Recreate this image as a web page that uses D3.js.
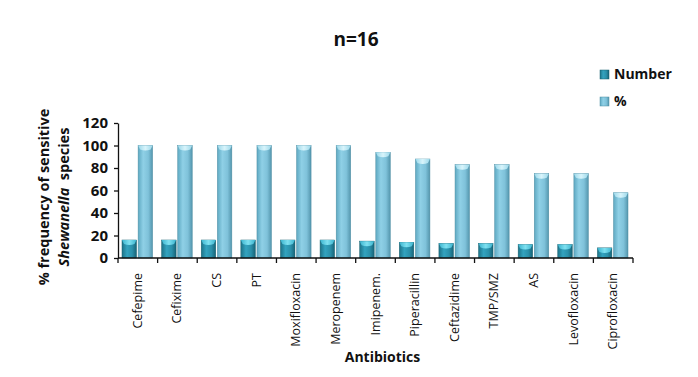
<!DOCTYPE html>
<html>
<head>
<meta charset="utf-8">
<script src="https://cdn.jsdelivr.net/npm/d3@7"></script>
<style>
  body { margin: 0; background: #fff; }
  text { font-family: "Open Sans", "DejaVu Sans", sans-serif; fill: #111; }
</style>
</head>
<body>
<div id="chart"></div>
<script>
  var antibiotics = ["Cefepime", "Cefixime", "CS", "PT", "Moxifloxacin", "Meropenem", "Imipenem.",
                     "Piperacillin", "Ceftazidime", "TMP/SMZ", "AS", "Levofloxacin", "Ciprofloxacin"];
  var numbers = [16, 16, 16, 16, 16, 16, 15, 14, 13, 13, 12, 12, 9];
  var percents = [100, 100, 100, 100, 100, 100, 94, 88, 83, 83, 75, 75, 58];
  var yTicks = [0, 20, 40, 60, 80, 100, 120];
  var seriesNames = ["Number", "%"];

  var width = 698, height = 377;
  var margin = { top: 123, right: 65, bottom: 119, left: 118 },
      chartWidth = width - margin.left - margin.right,
      chartHeight = height - margin.top - margin.bottom;

  var svg = d3.select("#chart").append("svg")
      .attr("width", width)
      .attr("height", height);

  var defs = svg.append("defs");
  function gradient(id, stops) {
    var g = defs.append("linearGradient").attr("id", id)
        .attr("x1", "0%").attr("x2", "100%").attr("y1", "0%").attr("y2", "0%");
    stops.forEach(s => g.append("stop").attr("offset", s[0]).attr("stop-color", s[1]));
  }
  gradient("gradNum", [["0%", "#1d7388"], ["35%", "#33a3bf"], ["70%", "#2a90aa"], ["100%", "#176377"]]);
  gradient("gradPct", [["0%", "#5ea9c2"], ["35%", "#8fd0e6"], ["70%", "#7fc2da"], ["100%", "#5496ad"]]);
  gradient("capNum", [["0%", "#3ab4cf"], ["50%", "#7fe0f0"], ["100%", "#3ab4cf"]]);
  gradient("capPct", [["0%", "#9bd8ea"], ["50%", "#d8f4fb"], ["100%", "#9bd8ea"]]);

  var series = [
    { name: seriesNames[0], values: numbers, fill: "url(#gradNum)", cap: "url(#capNum)", stroke: "#16606f" },
    { name: seriesNames[1], values: percents, fill: "url(#gradPct)", cap: "url(#capPct)", stroke: "#4e8ea3" }
  ];

  var x = d3.scaleBand()
      .domain(antibiotics)
      .range([0, chartWidth]);

  var xInner = d3.scaleBand()
      .domain(seriesNames)
      .range([4, x.bandwidth() - 5])
      .paddingInner(0.1);

  var y = d3.scaleLinear()
      .domain([0, 120])
      .range([chartHeight, 0]);

  var g = svg.append("g")
      .attr("transform", "translate(" + margin.left + "," + margin.top + ")");

  // bars
  series.forEach(s => {
    var bars = g.append("g").selectAll("g")
      .data(s.values)
      .join("g")
        .attr("transform", (d, i) => "translate(" + (x(antibiotics[i]) + xInner(s.name)) + ",0)");

    bars.append("rect")
        .attr("x", 0)
        .attr("y", d => y(d))
        .attr("width", xInner.bandwidth())
        .attr("height", d => chartHeight - y(d))
        .attr("fill", s.fill)
        .attr("stroke", s.stroke)
        .attr("stroke-width", 0.5);

    bars.append("path")
        .attr("d", d => {
          var w = xInner.bandwidth(), t = y(d);
          return "M0," + t + " L" + w + "," + t + " L" + (w - 2) + "," + (t + 4) +
                 " Q" + (w / 2) + "," + (t + 6) + " 2," + (t + 4) + " Z";
        })
        .attr("fill", s.cap);
  });

  // axes
  var yAxis = d3.axisLeft(y)
      .tickValues(yTicks)
      .tickSize(4)
      .tickSizeOuter(0);

  g.append("g")
      .attr("class", "y axis")
      .call(yAxis)
      .call(a => a.select(".domain").attr("stroke", "#111").attr("stroke-width", 1.3))
      .call(a => a.selectAll(".tick line").attr("stroke", "#111").attr("stroke-width", 1.3))
      .call(a => a.selectAll(".tick text")
        .attr("x", -10)
        .attr("font-size", "15px")
        .attr("font-weight", "bold")
        .style("font-family", "'Open Sans', sans-serif"));

  var xAxis = g.append("g")
      .attr("class", "x axis")
      .attr("transform", "translate(0," + chartHeight + ")");

  xAxis.append("line")
      .attr("x1", 0).attr("x2", chartWidth)
      .attr("stroke", "#111").attr("stroke-width", 1.3);

  xAxis.selectAll(".sep")
    .data(antibiotics)
    .join("line")
      .attr("class", "sep")
      .attr("x1", d => x(d) + x.bandwidth())
      .attr("x2", d => x(d) + x.bandwidth())
      .attr("y1", 0).attr("y2", 5)
      .attr("stroke", "#111").attr("stroke-width", 1.3);

  xAxis.append("line")
      .attr("x1", 0).attr("x2", 0).attr("y1", 0).attr("y2", 5)
      .attr("stroke", "#111").attr("stroke-width", 1.3);

  xAxis.selectAll(".lbl")
    .data(antibiotics)
    .join("text")
      .attr("class", "lbl")
      .attr("transform", d => "translate(" + (x(d) + x.bandwidth() / 2 + 4) + ",15) rotate(-90)")
      .attr("text-anchor", "end")
      .attr("font-size", "12.5px")
      .text(d => d);

  // axis titles
  svg.append("text")
      .attr("x", margin.left + chartWidth / 2 + 7)
      .attr("y", 362)
      .attr("text-anchor", "middle")
      .attr("font-size", "14px")
      .attr("font-weight", "bold")
      .text("Antibiotics");

  var yTitle = svg.append("g")
      .attr("transform", "translate(49," + 197 + ") rotate(-90)");

  yTitle.append("text")
      .attr("text-anchor", "middle")
      .attr("font-size", "14.5px")
      .attr("font-weight", "bold")
      .text("% frequency of sensitive");

  var line2 = yTitle.append("text")
      .attr("y", 20)
      .attr("text-anchor", "middle")
      .attr("font-size", "14.5px")
      .attr("font-weight", "bold");
  line2.append("tspan").attr("font-style", "italic").text("Shewanella");
  line2.append("tspan").text("\u00a0\u00a0species");

  // title
  svg.append("text")
      .attr("x", 356)
      .attr("y", 46)
      .attr("text-anchor", "middle")
      .attr("font-size", "19px")
      .attr("font-weight", "bold")
      .text("n=16");

  // legend
  var legend = svg.append("g")
      .attr("transform", "translate(600,70)")
    .selectAll("g")
    .data(series)
    .join("g")
      .attr("transform", (d, i) => "translate(0," + (i * 27) + ")");

  legend.append("rect")
      .attr("width", 9).attr("height", 9)
      .attr("fill", d => d.fill)
      .attr("stroke", d => d.stroke)
      .attr("stroke-width", 0.5);

  legend.append("text")
      .attr("x", 14)
      .attr("y", 9)
      .attr("font-size", "14px")
      .attr("font-weight", "bold")
      .text(d => d.name);
</script>
</body>
</html>
